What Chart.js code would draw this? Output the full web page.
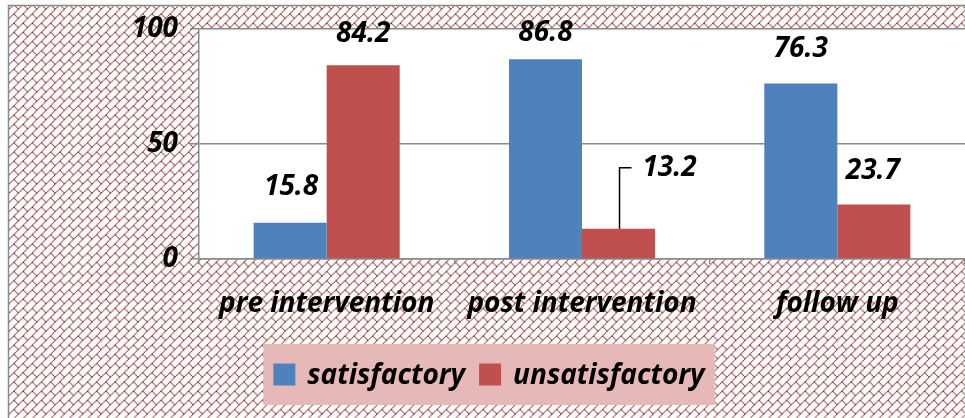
<!DOCTYPE html>
<html>
<head>
<meta charset="utf-8">
<script src="https://cdn.jsdelivr.net/npm/chart.js@4.4.1/dist/chart.umd.min.js"></script>
<style>
  html, body { margin: 0; padding: 0; background: #ffffff; }
  #wrap { width: 965px; height: 418px; }
</style>
</head>
<body>
<div id="wrap"><canvas id="c" width="965" height="418"></canvas></div>
<script>
const categories = ['pre intervention', 'post intervention', 'follow up'];
const seriesNames = ['satisfactory', 'unsatisfactory'];
const satisfactory = [15.8, 86.8, 76.3];
const unsatisfactory = [84.2, 13.2, 23.7];
const yTickValues = [0, 50, 100];

const FONT = '"Open Sans", "Noto Sans", sans-serif';
const FSIZE = 28;
const BLUE = '#4F81BD';
const RED = '#C0504D';
const GREY = '#8A8A8A';
const HATCH = '#943634';

function makePattern(ctx) {
  const bits = [0x01, 0x02, 0x04, 0x08, 0x18, 0x24, 0x42, 0x81];
  const t = document.createElement('canvas');
  t.width = 8; t.height = 8;
  const c = t.getContext('2d');
  c.fillStyle = '#ffffff';
  c.fillRect(0, 0, 8, 8);
  c.fillStyle = HATCH;
  for (let r = 0; r < 8; r++) {
    for (let col = 0; col < 8; col++) {
      if (bits[r] & (0x80 >> col)) c.fillRect(col, r, 1, 1);
    }
  }
  const p = ctx.createPattern(t, 'repeat');
  if (p.setTransform) p.setTransform(new DOMMatrix().scale(1.15));
  return p;
}

const backgroundPlugin = {
  id: 'bgPattern',
  beforeDraw(chart) {
    const ctx = chart.ctx;
    const ca = chart.chartArea;
    ctx.save();
    ctx.fillStyle = '#ffffff';
    ctx.fillRect(0, 0, chart.width, chart.height);
    ctx.fillStyle = makePattern(ctx);
    ctx.fillRect(8, 5, chart.width - 8, chart.height - 5);
    ctx.strokeStyle = GREY;
    ctx.lineWidth = 1.5;
    ctx.beginPath();
    ctx.moveTo(8.5, chart.height);
    ctx.lineTo(8.5, 5.5);
    ctx.lineTo(chart.width, 5.5);
    ctx.stroke();
    ctx.fillStyle = '#ffffff';
    ctx.fillRect(ca.left, ca.top, ca.right - ca.left, ca.bottom - ca.top);
    ctx.restore();
  }
};

const labelPlugin = {
  id: 'valueLabels',
  afterDatasetsDraw(chart, args, opts) {
    const ctx = chart.ctx;
    ctx.save();
    ctx.font = 'italic bold ' + FSIZE + 'px ' + FONT;
    ctx.fillStyle = '#000000';
    ctx.textAlign = 'center';
    ctx.textBaseline = 'middle';
    chart.data.datasets.forEach((ds, i) => {
      const meta = chart.getDatasetMeta(i);
      meta.data.forEach((bar, j) => {
        const off = opts.offsets[i][j];
        const tx = bar.x + off.dx;
        const ty = bar.y - off.dy;
        ctx.fillText(ds.data[j].toFixed(1), tx, ty);
        if (off.leader) {
          ctx.strokeStyle = '#000000';
          ctx.lineWidth = 1.5;
          ctx.beginPath();
          ctx.moveTo(bar.x + 1, bar.y);
          ctx.lineTo(bar.x + 1, ty);
          ctx.lineTo(bar.x + 13, ty);
          ctx.stroke();
        }
      });
    });
    ctx.restore();
  }
};

const legendPlugin = {
  id: 'boxLegend',
  afterDraw(chart, args, opts) {
    const ctx = chart.ctx;
    ctx.save();
    ctx.font = 'italic bold ' + FSIZE + 'px ' + FONT;
    const sq = 22, gapText = 12, gapItem = 14, padX = 10;
    const items = chart.data.datasets.map(ds => ({
      label: ds.label, color: ds.backgroundColor, w: ctx.measureText(ds.label).width
    }));
    let content = 0;
    items.forEach((it, k) => { content += sq + gapText + it.w + (k < items.length - 1 ? gapItem : 0); });
    const boxW = content + padX * 2;
    const boxX = opts.centerX - boxW / 2;
    const boxY = opts.top, boxH = opts.height;
    ctx.fillStyle = '#E6B9B8';
    ctx.fillRect(boxX, boxY, boxW, boxH);
    let x = boxX + padX;
    const cy = boxY + boxH / 2;
    ctx.textBaseline = 'middle';
    ctx.textAlign = 'left';
    items.forEach(it => {
      ctx.fillStyle = it.color;
      ctx.fillRect(x, cy - sq / 2, sq, sq);
      x += sq + gapText;
      ctx.fillStyle = '#000000';
      ctx.fillText(it.label, x, cy + 2);
      x += it.w + gapItem;
    });
    ctx.restore();
  }
};

new Chart(document.getElementById('c'), {
  type: 'bar',
  data: {
    labels: categories,
    datasets: [
      { label: seriesNames[0], data: satisfactory, backgroundColor: BLUE, borderWidth: 0 },
      { label: seriesNames[1], data: unsatisfactory, backgroundColor: RED, borderWidth: 0 }
    ]
  },
  options: {
    responsive: false,
    animation: false,
    devicePixelRatio: 1,
    layout: { padding: { top: 29, left: 0, right: 0, bottom: 0 } },
    datasets: { bar: { categoryPercentage: 0.572, barPercentage: 1.0 } },
    plugins: {
      legend: { display: false },
      tooltip: { enabled: false },
      valueLabels: {
        offsets: [
          [{ dx: 1, dy: 36 }, { dx: 0, dy: 26 }, { dx: 0, dy: 34 }],
          [{ dx: 0, dy: 31 }, { dx: 51, dy: 61, leader: true }, { dx: -1, dy: 33 }]
        ]
      },
      boxLegend: { centerX: 489, top: 344, height: 61 }
    },
    scales: {
      x: {
        afterFit(s) { s.height = 159; },
        grid: { offset: true, drawOnChartArea: false, drawTicks: true, tickLength: 5, color: GREY, lineWidth: 1.5 },
        border: { display: true, color: GREY, width: 1.5 },
        ticks: { color: '#000000', font: { family: FONT, size: FSIZE, style: 'italic', weight: 'bold' }, padding: 23 }
      },
      y: {
        min: 0, max: 100,
        afterFit(s) { s.width = 199; },
        afterBuildTicks(s) { s.ticks = yTickValues.map(v => ({ value: v })); },
        grid: { color: GREY, lineWidth: 1.5, tickLength: 9, drawTicks: true },
        border: { display: true, color: GREY, width: 1.5 },
        ticks: { color: '#000000', font: { family: FONT, size: FSIZE, style: 'italic', weight: 'bold' }, padding: 12 }
      }
    }
  },
  plugins: [backgroundPlugin, labelPlugin, legendPlugin]
});
</script>
</body>
</html>
